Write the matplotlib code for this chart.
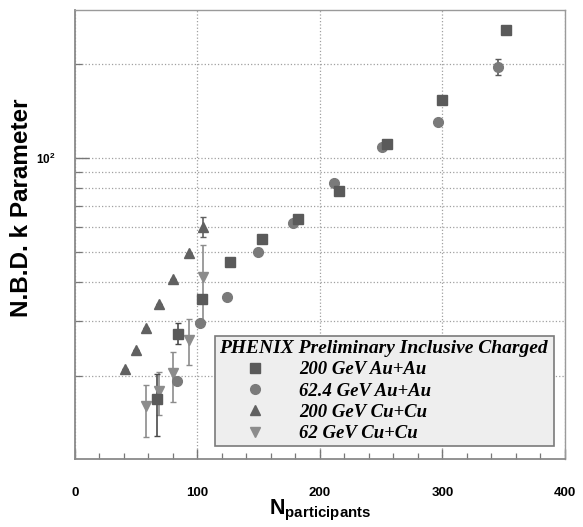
import numpy as np
import matplotlib
matplotlib.use("Agg")
import matplotlib.pyplot as plt
from matplotlib.ticker import FixedLocator, NullFormatter, FixedFormatter

plt.rcParams['font.family'] = ['Liberation Sans', 'DejaVu Sans']
plt.rcParams['mathtext.fontset'] = 'custom'
plt.rcParams['mathtext.rm'] = 'Liberation Sans'
plt.rcParams['mathtext.bf'] = 'Liberation Sans:bold'

# 200 GeV Au+Au
auau200_x = [66.7, 83.8, 103.4, 126.5, 152.4, 182.0, 215.5, 254.7, 299.6, 352.0]
auau200_y = [16.8, 27.2, 35.3, 46.4, 55.0, 63.7, 78.4, 111.0, 153.0, 257.0]
auau200_lo = [4.0, 1.9, 0.0, 0.0, 0.0, 0.0, 0.0, 0.0, 0.0, 0.0]
auau200_hi = [3.5, 2.4, 0.0, 0.0, 0.0, 0.0, 0.0, 0.0, 0.0, 0.0]

# 62.4 GeV Au+Au
auau62_x = [83.0, 102.0, 124.3, 149.0, 178.0, 211.4, 250.6, 296.0, 345.0]
auau62_y = [19.2, 29.6, 35.7, 49.9, 61.9, 83.2, 108.4, 130.4, 196.0]
auau62_err = [0.0, 0.0, 0.0, 0.0, 0.0, 0.0, 0.0, 0.0, 11.5]

# 200 GeV Cu+Cu
cucu200_x = [40.8, 49.5, 58.0, 68.6, 80.3, 93.0, 104.7]
cucu200_y = [21.0, 24.2, 28.5, 34.0, 40.8, 49.5, 60.0]
cucu200_err = [0.0, 0.0, 0.0, 0.0, 0.0, 0.0, 4.5]

# 62 GeV Cu+Cu
cucu62_x = [58.0, 68.6, 80.3, 93.0, 104.7]
cucu62_y = [16.0, 17.8, 20.4, 26.1, 41.5]
cucu62_lo = [3.3, 2.8, 4.0, 4.4, 11.7]
cucu62_hi = [2.7, 2.7, 3.5, 4.4, 11.1]

labels = ['200 GeV Au+Au', '62.4 GeV Au+Au', '200 GeV Cu+Cu', '62 GeV Cu+Cu']

fig = plt.figure(figsize=(5.83, 5.27), dpi=100)
ax = fig.add_axes([0.1286, 0.129, 0.8405, 0.852])

ax.set_yscale('log')
ax.set_xlim(0, 400)
ax.set_ylim(10.8, 298)

ax.grid(True, which='major', axis='x', linestyle=':', color='#a0a0a0', linewidth=0.9)
ax.grid(True, which='both', axis='y', linestyle=':', color='#a0a0a0', linewidth=0.9)
ax.set_axisbelow(True)

ms = 7
err_kw = dict(linestyle='none', elinewidth=1.2, capsize=2.5, capthick=1.0)
h4 = ax.errorbar(cucu62_x, cucu62_y, yerr=[cucu62_lo, cucu62_hi], fmt='v',
                 color='#8c8c8c', ms=ms + 0.5, ecolor='#8c8c8c', **err_kw)
h3 = ax.errorbar(cucu200_x, cucu200_y, yerr=cucu200_err, fmt='^',
                 color='#616161', ms=ms + 0.5, ecolor='#616161', **err_kw)
h2 = ax.errorbar(auau62_x, auau62_y, yerr=auau62_err, fmt='o',
                 color='#7a7a7a', ms=ms, ecolor='#5a5a5a', **err_kw)
h1 = ax.errorbar(auau200_x, auau200_y, yerr=[auau200_lo, auau200_hi], fmt='s',
                 color='#5a5a5a', ms=ms - 0.3, ecolor='#4a4a4a', **err_kw)

# axes styling
for side in ['left', 'bottom']:
    ax.spines[side].set_color('#8a8a8a')
    ax.spines[side].set_linewidth(1.3)
for side in ['top', 'right']:
    ax.spines[side].set_color('#9a9a9a')
    ax.spines[side].set_linewidth(1.0)

ax.xaxis.set_major_locator(FixedLocator([0, 100, 200, 300, 400]))
ax.xaxis.set_minor_locator(FixedLocator([v for v in range(20, 400, 20) if v % 100 != 0]))
ax.tick_params(axis='x', which='major', direction='in', length=7, width=1.0,
               color='#777777', pad=20, labelsize=9.5)
ax.tick_params(axis='x', which='minor', direction='in', length=4, width=0.9,
               color='#777777')
for lab in ax.get_xticklabels():
    lab.set_fontweight('bold')

ax.yaxis.set_major_locator(FixedLocator([100]))
ax.yaxis.set_major_formatter(FixedFormatter([r'$\mathbf{10^{2}}$']))
ax.yaxis.set_minor_locator(FixedLocator([20, 30, 40, 50, 60, 70, 80, 90, 200]))
ax.yaxis.set_minor_formatter(NullFormatter())
ax.tick_params(axis='y', which='major', direction='in', length=10, width=1.0,
               color='#777777', pad=14, labelsize=8.5)
ax.tick_params(axis='y', which='minor', direction='in', length=5, width=0.9,
               color='#777777')

ax.set_ylabel('N.B.D. k Parameter', fontsize=17.5, fontweight='bold')
ax.yaxis.set_label_coords(-0.086, 0.559)
ax.set_xlabel(r'$\mathbf{N_{participants}}$', fontsize=15.5)
ax.xaxis.set_label_coords(0.5, -0.087)

leg = ax.legend([h1[0], h2[0], h3[0], h4[0]], labels,
                title='PHENIX Preliminary Inclusive Charged',
                loc='lower left', bbox_to_anchor=(0.286, 0.029, 0.692, 0.24),
                mode='expand', alignment='left',
                prop={'family': 'Liberation Serif', 'weight': 'bold',
                      'style': 'italic', 'size': 13.5},
                title_fontproperties={'family': 'Liberation Serif', 'weight': 'bold',
                                      'style': 'italic', 'size': 14},
                fancybox=False, framealpha=1.0, facecolor='#eeeeee',
                edgecolor='#7a7a7a', borderpad=0.2, handlelength=3.9,
                handletextpad=0.4, labelspacing=0.22, borderaxespad=0.0)
leg.get_frame().set_linewidth(1.2)

fig.savefig('out.png', dpi=100)
